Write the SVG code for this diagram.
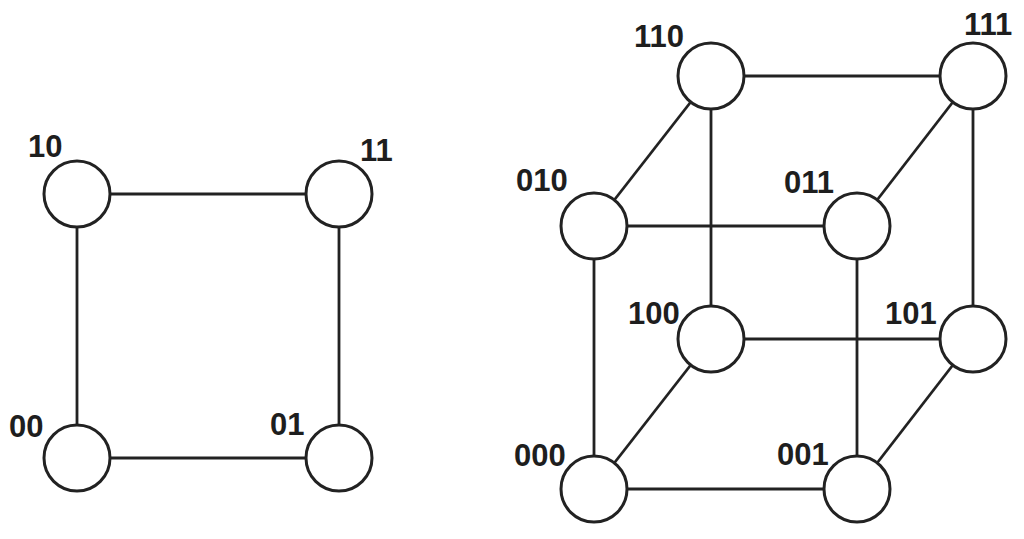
<svg xmlns="http://www.w3.org/2000/svg" width="1024" height="539" viewBox="0 0 1024 539">
<style>
.n{fill:#fff;stroke:#222;stroke-width:3}
.e line{stroke:#222;stroke-width:2.8}
text{font-family:'Liberation Sans',Arial,Helvetica,sans-serif;font-weight:700;font-size:31px;fill:#1e1e1e}
</style>
<rect width="1024" height="539" fill="#fff"/>
<g id="connectors" class="e">
<line x1="77" y1="194" x2="339" y2="194"/>
<line x1="77" y1="194" x2="77" y2="458"/>
<line x1="339" y1="194" x2="339" y2="458"/>
<line x1="77" y1="458" x2="339" y2="458"/>
<line x1="711" y1="76" x2="973" y2="76"/>
<line x1="711" y1="76" x2="594" y2="226"/>
<line x1="711" y1="76" x2="711" y2="339"/>
<line x1="973" y1="76" x2="857" y2="226"/>
<line x1="973" y1="76" x2="973" y2="339"/>
<line x1="594" y1="226" x2="857" y2="226"/>
<line x1="594" y1="226" x2="594" y2="489"/>
<line x1="857" y1="226" x2="857" y2="489"/>
<line x1="711" y1="339" x2="973" y2="339"/>
<line x1="711" y1="339" x2="594" y2="489"/>
<line x1="973" y1="339" x2="857" y2="489"/>
<line x1="594" y1="489" x2="857" y2="489"/>
</g>
<g id="n10"><circle class="n" cx="77" cy="194" r="33"/><text x="28" y="157">10</text></g>
<g id="n11"><circle class="n" cx="339" cy="194" r="33"/><text x="360" y="161">11</text></g>
<g id="n00"><circle class="n" cx="77" cy="458" r="33"/><text x="9" y="437">00</text></g>
<g id="n01"><circle class="n" cx="339" cy="458" r="33"/><text x="270" y="435">01</text></g>
<g id="n110"><circle class="n" cx="711" cy="76" r="33"/><text x="634" y="47">110</text></g>
<g id="n111"><circle class="n" cx="973" cy="76" r="33"/><text x="964" y="35">111</text></g>
<g id="n010"><circle class="n" cx="594" cy="226" r="33"/><text x="516" y="191">010</text></g>
<g id="n011"><circle class="n" cx="857" cy="226" r="33"/><text x="784" y="193">011</text></g>
<g id="n100"><circle class="n" cx="711" cy="339" r="33"/><text x="628" y="324">100</text></g>
<g id="n101"><circle class="n" cx="973" cy="339" r="33"/><text x="885" y="324">101</text></g>
<g id="n000"><circle class="n" cx="594" cy="489" r="33"/><text x="514" y="466">000</text></g>
<g id="n001"><circle class="n" cx="857" cy="489" r="33"/><text x="777" y="465">001</text></g>
</svg>
